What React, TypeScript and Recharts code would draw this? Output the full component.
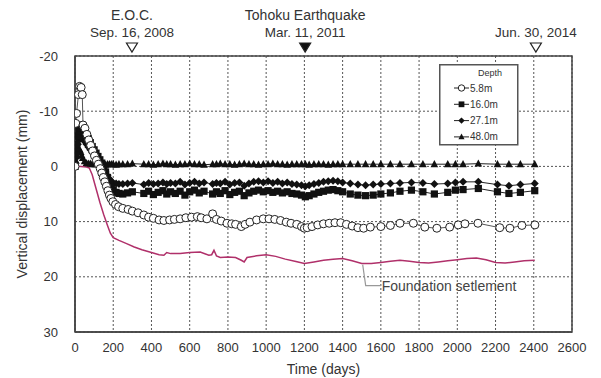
import React from 'react';
import {
  ComposedChart,
  Line,
  XAxis,
  YAxis,
  CartesianGrid,
  ReferenceArea,
  ReferenceDot,
  Legend,
} from 'recharts';

// ---------- data ----------
const xTicks = [0, 200, 400, 600, 800, 1000, 1200, 1400, 1600, 1800, 2000, 2200, 2400, 2600];
const yTicks = [-20, -10, 0, 10, 20, 30];

const depth58Days = [
  0, 4, 8, 18, 24, 32, 38, 42, 52, 62, 72, 82, 92, 102, 112, 122, 132, 140, 148, 156, 164, 172, 180, 188, 198,
  212, 228, 250, 278, 300, 330, 360, 385, 410, 440, 465, 495, 520, 550, 580, 610, 640, 660, 690, 720, 740, 765,
  795, 820, 840, 870, 890, 915, 950, 985, 1015, 1045, 1075, 1105, 1130, 1160, 1185, 1200, 1215, 1240, 1270, 1300,
  1330, 1360, 1390, 1420, 1450, 1480, 1510, 1545, 1600, 1650, 1700, 1770, 1830, 1893, 1960, 2005, 2040, 2108,
  2222, 2275, 2338, 2406,
];
const depth58Values = [
  0, -7.8, -9.6, -13, -14.5, -14.3, -13, -7.5, -6.9, -5.8, -4.8, -3.8, -2.8, -1.9, -1.1, -0.4, 0.4, 1.2, 2, 2.8, 3.6,
  4.4, 5.2, 5.8, 6.4, 6.9, 7.3, 7.6, 7.8, 8.1, 8.4, 8.8, 9.2, 9.4, 9.7, 9.8, 9.7, 9.6, 9.5, 9.3, 9.2, 9.1, 9.3, 9.5,
  8.6, 9.6, 9.9, 10.3, 10.4, 10.5, 10.9, 10.5, 10.1, 9.7, 9.5, 9.5, 9.6, 9.8, 10.1, 10.3, 10.5, 10.9, 11.2, 11.1,
  10.9, 10.6, 10.4, 10.3, 10.2, 10.2, 10.5, 10.8, 11.1, 11.2, 11, 10.9, 10.7, 10.3, 10.3, 11, 11.2, 11, 10.6, 10.4,
  10.3, 11.1, 11.2, 10.7, 10.6,
];

const deepDays = [
  0, 5, 10, 15, 20, 25, 30, 35, 40, 50, 60, 70, 80, 90, 100, 110, 120, 130, 140, 150, 160, 170, 180, 190, 200,
  215, 230, 250, 275, 300, 360, 385, 410, 435, 460, 480, 500, 525, 550, 575, 600, 625, 650, 675, 720, 740, 760,
  785, 810, 835, 860, 885, 910, 935, 960, 985, 1010, 1035, 1060, 1085, 1110, 1135, 1160, 1185, 1205, 1225, 1250,
  1275, 1300, 1325, 1350, 1375, 1400, 1440, 1480, 1520, 1560, 1600, 1650, 1700, 1760, 1820, 1880, 1950, 1990,
  2030, 2110, 2210, 2270, 2330, 2405,
];
const depth160Values = [
  0, -2, -4, -5.5, -6.5, -7, -7.3, -7.5, -7, -6.3, -5.6, -5, -4.3, -3.6, -3, -2.4, -1.8, -1.2, -0.6, 0.2, 1, 2, 3,
  3.8, 4.3, 4.7, 4.9, 5, 4.8, 4.6, 4.9, 4.5, 5.1, 4.7, 4.4, 5, 4.6, 4.9, 4.5, 5.2, 4.6, 4.3, 4.8, 4.5, 5, 4.6, 4.9,
  4.4, 5.1, 4.7, 4.5, 5.3, 4.8, 4.5, 4.3, 4.6, 4.4, 4.7, 4.5, 4.8, 4.6, 4.9, 5, 5.2, 5.5, 5.3, 5, 4.7, 4.5, 4.3, 4.2,
  4.4, 4.6, 5, 5.2, 5.3, 5.2, 5, 4.8, 4.5, 4.3, 4.6, 5, 4.7, 4.3, 4.2, 4, 4.6, 4.9, 4.7, 4.4,
];
const depth271Values = [
  0, -1.5, -3, -4, -4.8, -5.2, -5.3, -5.2, -5, -4.5, -4, -3.5, -3, -2.5, -2, -1.6, -1.2, -0.8, -0.3, 0.3, 1, 1.7,
  2.3, 2.7, 3, 3.1, 3.2, 3.2, 3.1, 3, 3.3, 3, 3.2, 3.1, 2.9, 3.2, 3, 3.1, 2.8, 3.3, 3, 2.8, 3.1, 2.9, 3.2, 3, 3.1,
  2.8, 3.3, 3, 2.9, 3.5, 3.1, 2.8, 2.7, 2.9, 2.7, 3, 2.8, 3.1, 2.9, 3.2, 3.3, 3.4, 3.6, 3.4, 3.2, 3, 2.8, 2.7, 2.6,
  2.7, 2.9, 3.1, 3.3, 3.4, 3.3, 3.2, 3.1, 3, 2.9, 3, 3.2, 3.1, 2.9, 2.8, 2.8, 3.3, 3.5, 3.3, 3.1,
];
const depth480Values = [
  0, -1, -2, -2.8, -3, -3, -2.6, -2, -1.5, -0.9, -0.6, -0.5, -0.5, -0.4, -0.4, -0.4, -0.5, -0.4, -0.4, -0.4, -0.3,
  -0.4, -0.4, -0.4, -0.4, -0.3, -0.4, -0.4, -0.4, -0.5, -0.4, -0.4, -0.3, -0.4, -0.5, -0.4, -0.4, -0.3, -0.4, -0.4,
  -0.5, -0.4, -0.4, -0.3, -0.4, -0.4, -0.5, -0.4, -0.4, -0.3, -0.4, -0.5, -0.4, -0.4, -0.3, -0.4, -0.4, -0.5, -0.4,
  -0.4, -0.3, -0.4, -0.4, -0.4, -0.4, -0.3, -0.4, -0.4, -0.4, -0.3, -0.4, -0.4, -0.4, -0.4, -0.4, -0.4, -0.4, -0.4,
  -0.4, -0.4, -0.4, -0.4, -0.4, -0.4, -0.4, -0.4, -0.5, -0.4, -0.4, -0.4, -0.4,
];

const foundationDays = [
  0, 30, 60, 75, 90, 110, 130, 150, 170, 185, 200, 230, 270, 310, 350, 400, 440, 465, 480, 500, 550, 600, 655, 700,
  715, 727, 740, 760, 800, 840, 870, 885, 900, 950, 1000, 1050, 1100, 1150, 1200, 1250, 1300, 1350, 1400, 1450, 1500,
  1550, 1600, 1650, 1700, 1750, 1800, 1850, 1900, 1950, 2000, 2050, 2100, 2150, 2200, 2250, 2300, 2350, 2405,
];
const foundationValues = [
  0, 0, 0.1, 0.3, 1.5, 4, 6.5, 8.7, 10.7, 12.1, 12.9, 13.4, 14, 14.6, 15.1, 15.6, 16, 16.1, 15.6, 15.8, 15.8, 15.6,
  15.5, 16.1, 16, 15.2, 16.2, 16.5, 16.4, 16.5, 17, 17.3, 16.5, 16.2, 16, 16.3, 16.8, 17.2, 17.6, 17.3, 17, 16.8,
  16.7, 17.1, 17.6, 17.6, 17.4, 17.2, 17, 17.2, 17.4, 17.5, 17.3, 17.1, 16.9, 16.7, 16.6, 16.9, 17.4, 17.5, 17.3,
  17.1, 17,
];

const legendLabels = ['5.8m', '16.0m', '27.1m', '48.0m'];
const legendMarkers = ['circle', 'square', 'diamond', 'triangle'];

const events = [
  { day: 298, title: 'E.O.C.', date: 'Sep. 16, 2008', filled: false },
  { day: 1204, title: 'Tohoku Earthquake', date: 'Mar. 11, 2011', filled: true },
  { day: 2411, title: '', date: 'Jun. 30, 2014', filled: false },
];

const zip = (days: number[], vals: number[]) => days.map((d, i) => ({ day: d, v: vals[i] }));
const d58 = zip(depth58Days, depth58Values);
const d160 = zip(deepDays, depth160Values);
const d271 = zip(deepDays, depth271Values);
const d480 = zip(deepDays, depth480Values);
const dFound = zip(foundationDays, foundationValues);

const FONT = '"Liberation Sans", Arial, sans-serif';
const TXT = '#333';

// ---------- markers ----------
const drawMarker = (type: string, cx: number, cy: number, key?: string, s = 1) => {
  if (type === 'circle')
    return <circle key={key} cx={cx} cy={cy} r={4 * s} fill="#fff" stroke="#222" strokeWidth={1} />;
  if (type === 'square')
    return <rect key={key} x={cx - 3.6 * s} y={cy - 3.6 * s} width={7.2 * s} height={7.2 * s} fill="#111" />;
  if (type === 'diamond') {
    const r = 4 * s;
    return (
      <polygon key={key} points={`${cx},${cy - r} ${cx + r},${cy} ${cx},${cy + r} ${cx - r},${cy}`} fill="#111" />
    );
  }
  const h = 4.2 * s;
  const w = 3.8 * s;
  return (
    <polygon key={key} points={`${cx},${cy - h} ${cx + w},${cy + h * 0.7} ${cx - w},${cy + h * 0.7}`} fill="#111" />
  );
};

const makeDot = (type: string) => (p: any) => {
  if (p.cx == null || p.cy == null) return <g key={`${type}-${p.index}`} />;
  return drawMarker(type, p.cx, p.cy, `${type}-${p.index}`);
};

// ---------- annotation shapes ----------
const EventShape = (ev: { title: string; date: string; filled: boolean }) => (p: any) => {
  const { cx, cy } = p;
  return (
    <g>
      {ev.title ? (
        <text x={cx} y={cy - 36} textAnchor="middle" fontFamily={FONT} fontSize={14} fill={TXT}>
          {ev.title}
        </text>
      ) : null}
      <text x={cx} y={cy - 19} textAnchor="middle" fontFamily={FONT} fontSize={13.5} fill={TXT}>
        {ev.date}
      </text>
      <polygon
        points={`${cx - 5.5},${cy - 13} ${cx + 5.5},${cy - 13} ${cx},${cy - 4}`}
        fill={ev.filled ? '#111' : '#fff'}
        stroke="#222"
        strokeWidth={1.2}
      />
    </g>
  );
};

const FoundationLabel = (p: any) => {
  const { cx, cy } = p;
  return (
    <g>
      <polyline
        points={`${cx},${cy + 1} ${cx + 3},${cy + 22} ${cx + 18},${cy + 22}`}
        fill="none"
        stroke="#999"
        strokeWidth={1.2}
      />
      <text x={cx + 19} y={cy + 27} fontFamily={FONT} fontSize={14} fill="#444">
        Foundation setlement
      </text>
    </g>
  );
};

const LegendBox = () => (
  <svg width={80} height={82} style={{ display: 'block' }}>
    <rect x={0.75} y={0.75} width={78} height={80} fill="#fff" stroke="#555" strokeWidth={1.5} />
    <text x={51} y={12} textAnchor="middle" fontFamily={FONT} fontSize={9} fill={TXT}>
      Depth
    </text>
    {legendLabels.map((lab, i) => {
      const y = 24 + i * 16.3;
      return (
        <g key={lab}>
          <line x1={15} x2={30} y1={y} y2={y} stroke="#222" strokeWidth={1} />
          {drawMarker(legendMarkers[i], 22.5, y, undefined, 0.8)}
          <text x={31} y={y + 3.5} fontFamily={FONT} fontSize={10} fill={TXT}>
            {lab}
          </text>
        </g>
      );
    })}
  </svg>
);

const YLabel = (p: any) => {
  const vb = p.viewBox || { x: 0, y: 56, width: 75, height: 276 };
  const cx = 22;
  const cy = vb.y + vb.height / 2;
  return (
    <text
      x={cx}
      y={cy}
      transform={`rotate(-90 ${cx} ${cy})`}
      textAnchor="middle"
      dominantBaseline="central"
      fontFamily={FONT}
      fontSize={14}
      fill={TXT}
    >
      Vertical displacement (mm)
    </text>
  );
};

const XLabel = (p: any) => {
  const vb = p.viewBox || { x: 75, y: 332, width: 497, height: 46 };
  return (
    <text x={vb.x + vb.width / 2} y={374} textAnchor="middle" fontFamily={FONT} fontSize={14} fill={TXT}>
      Time (days)
    </text>
  );
};

export default function App() {
  return (
    <div style={{ position: 'absolute', left: 0, top: 0, width: 601, height: 378, background: '#fff' }}>
      <ComposedChart width={601} height={378} margin={{ top: 56, right: 29, left: 0, bottom: 0 }}>
        <CartesianGrid stroke="#555" strokeDasharray="2 2" strokeWidth={1} />
        <XAxis
          dataKey="day"
          type="number"
          domain={[0, 2600]}
          ticks={xTicks}
          interval={0}
          height={46}
          tickSize={0}
          tickMargin={11}
          axisLine={{ stroke: '#444', strokeWidth: 1.5 }}
          tickLine={false}
          tick={{ fontFamily: FONT, fontSize: 13, fill: TXT }}
          label={<XLabel />}
          allowDataOverflow
        />
        <YAxis
          type="number"
          domain={[-20, 30]}
          ticks={yTicks}
          interval={0}
          reversed
          width={75}
          tickSize={0}
          tickMargin={17}
          axisLine={{ stroke: '#444', strokeWidth: 1.5 }}
          tickLine={false}
          tick={{ fontFamily: FONT, fontSize: 13, fill: TXT }}
          label={<YLabel />}
          allowDataOverflow
        />
        <ReferenceArea x1={0} x2={2600} y1={-20} y2={30} fill="none" stroke="#444" strokeWidth={1.5} />
        <Line
          data={dFound}
          dataKey="v"
          type="linear"
          stroke="#b0306a"
          strokeWidth={1.5}
          dot={false}
          legendType="none"
          isAnimationActive={false}
        />
        <Line
          data={d480}
          dataKey="v"
          type="linear"
          stroke="#222"
          strokeWidth={1}
          dot={makeDot('triangle')}
          isAnimationActive={false}
        />
        <Line
          data={d271}
          dataKey="v"
          type="linear"
          stroke="#222"
          strokeWidth={1}
          dot={makeDot('diamond')}
          isAnimationActive={false}
        />
        <Line
          data={d160}
          dataKey="v"
          type="linear"
          stroke="#222"
          strokeWidth={1}
          dot={makeDot('square')}
          isAnimationActive={false}
        />
        <Line
          data={d58}
          dataKey="v"
          type="linear"
          stroke="#555"
          strokeWidth={1}
          dot={makeDot('circle')}
          isAnimationActive={false}
        />
        {events.map((ev) => (
          <ReferenceDot key={ev.date} x={ev.day} y={-20} r={0} ifOverflow="visible" shape={EventShape(ev)} />
        ))}
        <ReferenceDot x={1505} y={17.6} r={0} ifOverflow="visible" shape={FoundationLabel} />
        <Legend
          layout="horizontal"
          verticalAlign="middle"
          align="center"
          content={() => <LegendBox />}
          wrapperStyle={{ left: 439, top: 64, width: 80, height: 82 }}
        />
      </ComposedChart>
    </div>
  );
}
